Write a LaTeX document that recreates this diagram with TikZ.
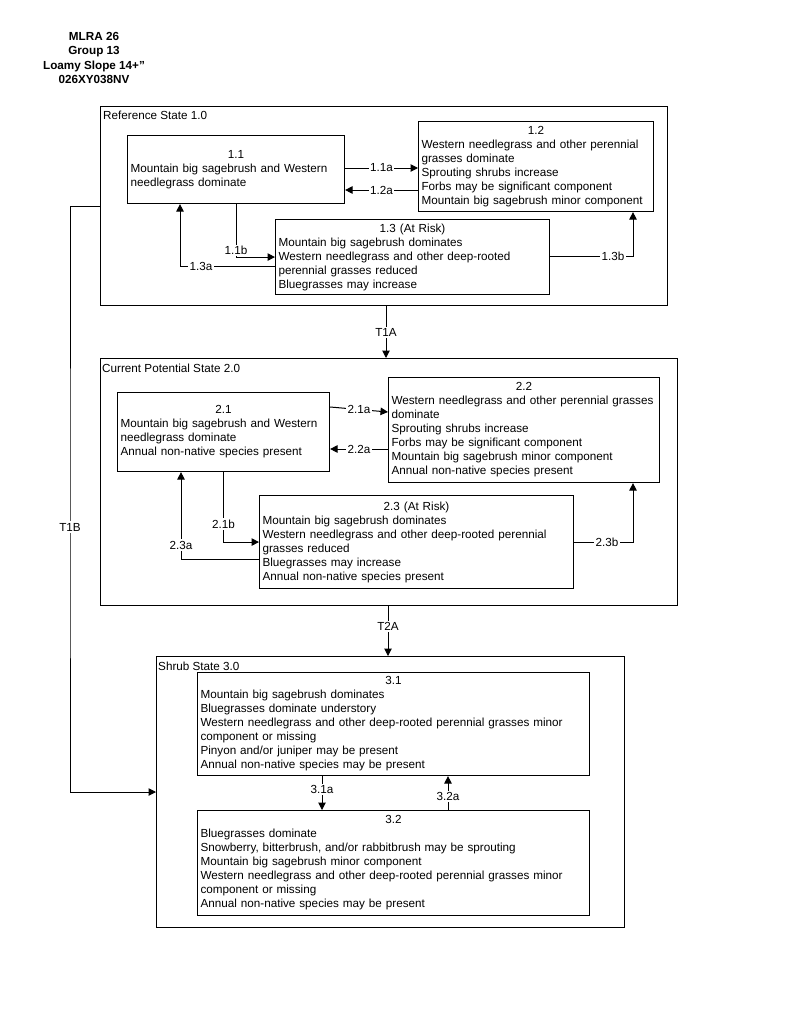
\documentclass[tikz,border=0pt]{standalone}
\usepackage{fontspec}
\setmainfont{Liberation Sans}
\usetikzlibrary{arrows.meta}

\newcommand{\boxtitle}[1]{\makebox[\linewidth]{#1}\\}

\tikzset{
  state/.style={draw, line width=1.4pt, anchor=north west, inner sep=0pt},
  phase/.style={draw, line width=1.1pt, anchor=north west, align=left, inner xsep=3pt, inner ysep=0pt},
  statelabel/.style={anchor=base west, inner sep=0pt},
  arr/.style={line width=1pt, -{Triangle[length=7.5pt, width=7.5pt]}},
  lbl/.style={fill=white, inner sep=1.5pt}
}

\begin{document}
\begin{tikzpicture}[x=1pt, y=-1pt, font=\fontsize{11.7}{14}\selectfont]
    \useasboundingbox (0,0) rectangle (800,1036);

    \node[font=\fontsize{11.7}{14.5}\selectfont\bfseries, align=center] (hdr) at (94,58) {MLRA 26\\Group 13\\Loamy Slope 14+”\\026XY038NV};

    % reference state
    \node[state, minimum width=567, minimum height=199] (st1) at (100,106) {};
    \node[statelabel] (st1l) at (103,119) {Reference State 1.0};

    \node[phase, text width=211, minimum height=68] (s11) at (127,135) {\boxtitle{1.1}Mountain big sagebrush and Western\\needlegrass dominate};
    \node[phase, text width=229, minimum height=90] (s12) at (418,121) {\boxtitle{1.2}Western needlegrass and other perennial\\grasses dominate\\Sprouting shrubs increase\\Forbs may be significant component\\Mountain big sagebrush minor component};
    \node[phase, text width=268, minimum height=75] (s13) at (275,219) {\boxtitle{1.3 (At Risk)}Mountain big sagebrush dominates\\Western needlegrass and other deep-rooted\\perennial grasses reduced\\Bluegrasses may increase};

    \draw[arr] (s11.east |- 0,168) -- node[lbl] {1.1a} (s12.west |- 0,168);
    \draw[arr] (s12.west |- 0,190) -- node[lbl] {1.2a} (s11.east |- 0,190);
    \draw[arr] (s11) |- node[lbl, pos=0.44] {1.1b} (s13);
    \draw[arr] (s13.west |- 0,266) -| node[lbl, pos=0.39] {1.3a} (s11.south -| 180,0);
    \draw[arr] (s13.east |- 0,256) -| node[lbl, pos=0.38] {1.3b} (s12.south -| 633,0);

    % current potential state
    \node[state, minimum width=577, minimum height=247] (st2) at (100,358) {};
    \node[statelabel] (st2l) at (102,372) {Current Potential State 2.0};

    \node[phase, text width=206, minimum height=79] (s21) at (117,392) {\boxtitle{2.1}Mountain big sagebrush and Western\\needlegrass dominate\\Annual non-native species present};
    \node[phase, text width=265, minimum height=105] (s22) at (388,377) {\boxtitle{2.2}Western needlegrass and other perennial grasses\\dominate\\Sprouting shrubs increase\\Forbs may be significant component\\Mountain big sagebrush minor component\\Annual non-native species present};
    \node[phase, text width=308, minimum height=93] (s23) at (259,495) {\boxtitle{2.3 (At Risk)}Mountain big sagebrush dominates\\Western needlegrass and other deep-rooted perennial\\grasses reduced\\Bluegrasses may increase\\Annual non-native species present};

    \draw[arr] (s21.east |- 0,407) -- node[lbl] {2.1a} (s22.west |- 0,412);
    \draw[arr] (s22.west |- 0,449) -- node[lbl] {2.2a} (s21.east |- 0,449);
    \draw[arr] (s21) |- node[lbl, pos=0.37] {2.1b} (s23);
    \draw[arr] (s23.west |- 0,559) -| node[lbl, pos=0.58] {2.3a} (s21.south -| 181,0);
    \draw[arr] (s23.east |- 0,542) -| node[lbl, pos=0.28] {2.3b} (s22.south -| 633,0);

    % shrub state
    \node[state, minimum width=468, minimum height=271] (st3) at (156,656) {};
    \node[statelabel] (st3l) at (158,670) {Shrub State 3.0};

    \node[phase, text width=386, minimum height=103] (s31) at (197,672) {\boxtitle{3.1}Mountain big sagebrush dominates\\Bluegrasses dominate understory\\Western needlegrass and other deep-rooted perennial grasses minor\\component or missing\\Pinyon and/or juniper may be present\\Annual non-native species may be present};
    \node[phase, text width=386, minimum height=105] (s32) at (197,810) {\boxtitle{3.2}Bluegrasses dominate\\Snowberry, bitterbrush, and/or rabbitbrush may be sprouting\\Mountain big sagebrush minor component\\Western needlegrass and other deep-rooted perennial grasses minor\\component or missing\\Annual non-native species may be present};

    \draw[arr] (s31.south -| 322,0) -- node[lbl, pos=0.4] {3.1a} (s32.north -| 322,0);
    \draw[arr] (s32.north -| 448,0) -- node[lbl, pos=0.4] {3.2a} (s31.south -| 448,0);

    % transitions
    \draw[arr] (st1.south -| 386,0) -- node[lbl] {T1A} (st2.north -| 386,0);
    \draw[arr] (st2.south -| 388,0) -- node[lbl, pos=0.4] {T2A} (st3.north -| 388,0);
    \draw[arr] (st1.west |- 0,206) -| (70,527) node[lbl] {T1B} |- (st3.west |- 0,792);
\end{tikzpicture}
\end{document}
